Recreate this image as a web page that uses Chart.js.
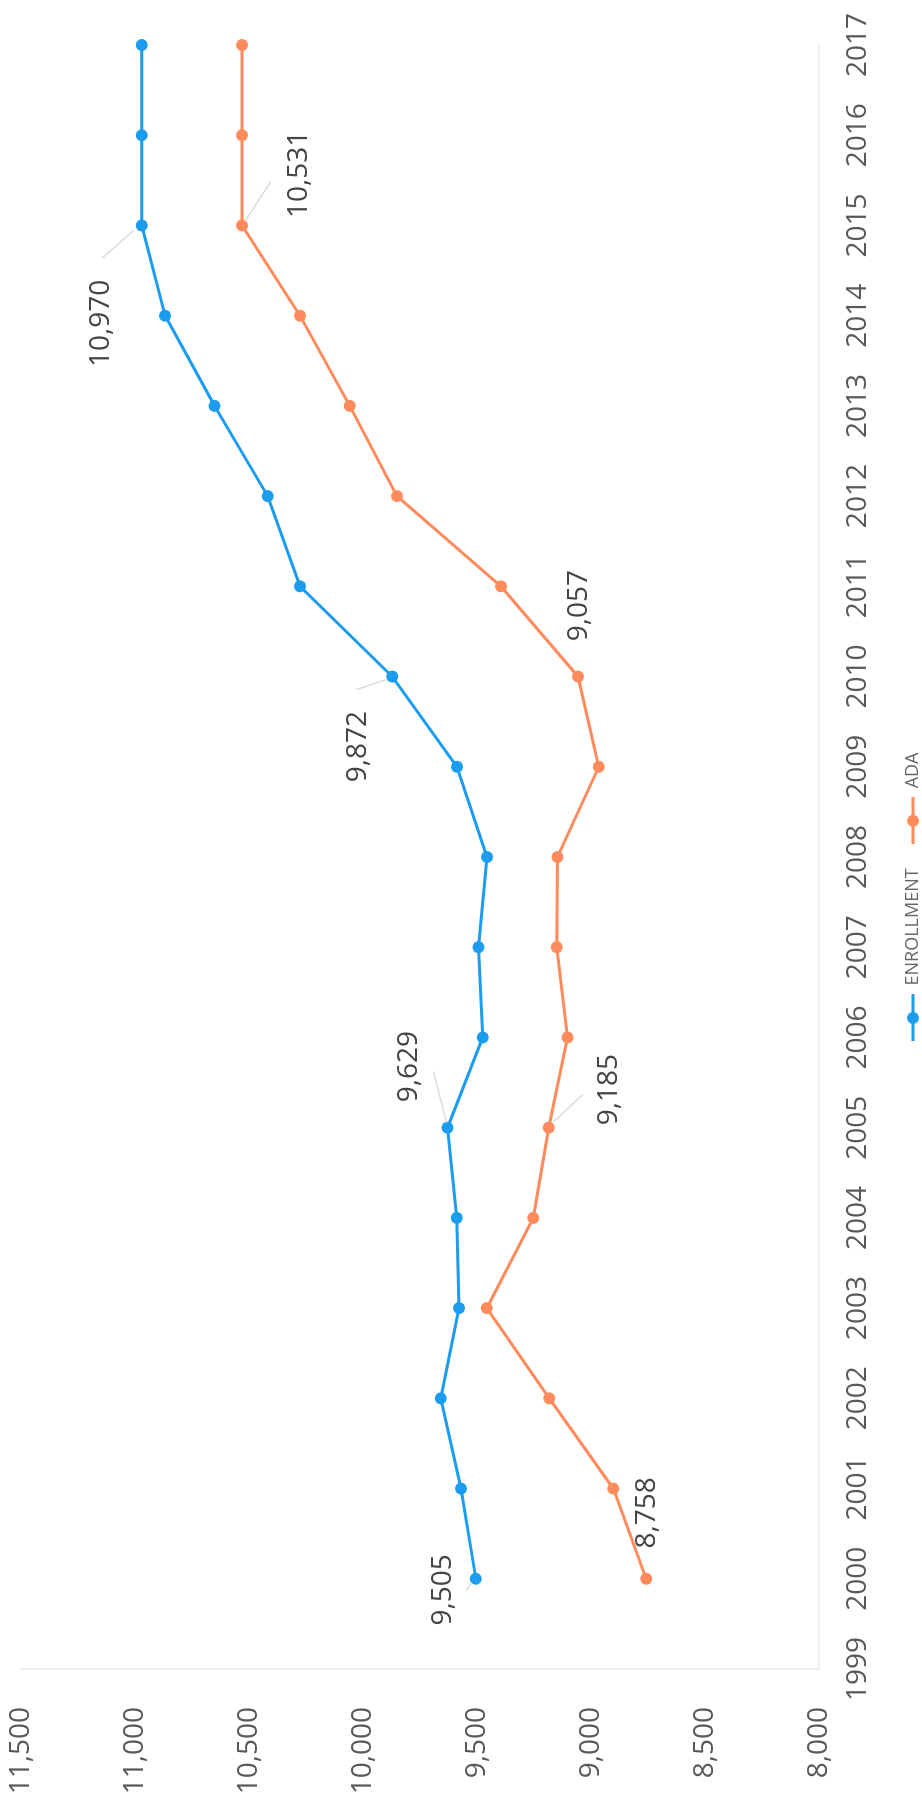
<!DOCTYPE html>
<html>
<head>
<meta charset="utf-8">
<title>Enrollment and ADA, 2000–2017</title>
<script src="https://cdn.jsdelivr.net/npm/chart.js@4.4.1/dist/chart.umd.min.js"></script>
<style>
  html, body { margin: 0; padding: 0; background: #ffffff; width: 922px; height: 1809px; overflow: hidden; }
  /* The chart is laid out landscape and turned a quarter-turn counter-clockwise onto the page. */
  #turn {
    position: absolute; left: 0; top: 0;
    width: 1809px; height: 932px;
    transform-origin: 0 0;
    transform: translate(0, 1809px) rotate(-90deg);
  }
</style>
</head>
<body>
<div id="turn"><canvas id="chart" width="1809" height="932"></canvas></div>
<script>
// School years on the category axis
const years = ['1999', '2000', '2001', '2002', '2003', '2004', '2005', '2006', '2007', '2008',
               '2009', '2010', '2011', '2012', '2013', '2014', '2015', '2016', '2017'];

// Enrollment by year (no value for 1999)
const enrollment = [null, 9505, 9570, 9659, 9579, 9589, 9629, 9475, 9493, 9456,
                    9588, 9872, 10276, 10418, 10651, 10868, 10970, 10970, 10970];

// Average daily attendance by year (no value for 1999)
const ada = [null, 8758, 8902, 9183, 9457, 9253, 9185, 9103, 9150, 9147,
             8966, 9057, 9395, 9851, 10058, 10276, 10531, 10531, 10531];

// Value-axis range and tick step
const valueMin = 8000;
const valueMax = 11500;
const valueStep = 500;

const seriesNames = ['ENROLLMENT', 'ADA'];
const seriesColors = ['#1B9CEE', '#FF8B5C'];

const FONT = '"Open Sans", "Noto Sans", sans-serif';
const fmt = v => Number(v).toLocaleString('en-US');

// Which points carry a value label, and where the label and its leader sit
// relative to the point (canvas pixels).
const pointLabels = [
  { ds: 0, year: '2000', dx: -11, dy: -33, lead: [-4, -4, -12, -10] },
  { ds: 1, year: '2000', dx: 66,  dy: 1,   lead: null },
  { ds: 0, year: '2005', dx: 61,  dy: -39, lead: [5, -1, 56, -14] },
  { ds: 1, year: '2005', dx: 38,  dy: 60,  lead: [6, 5, 33, 34] },
  { ds: 0, year: '2010', dx: -70, dy: -34, lead: [-3, -6, -13, -36] },
  { ds: 1, year: '2010', dx: 71,  dy: 1,   lead: null },
  { ds: 0, year: '2015', dx: -98, dy: -41, lead: [-5, -8, -33, -40] },
  { ds: 1, year: '2015', dx: 51,  dy: 57,  lead: [4, 3, 44, 29] }
];

// Legend swatch: a short line with a dot on it
function swatch(color) {
  const c = document.createElement('canvas');
  c.width = 47; c.height = 16;
  const g = c.getContext('2d');
  g.strokeStyle = color; g.lineWidth = 3;
  g.beginPath(); g.moveTo(0, 8); g.lineTo(47, 8); g.stroke();
  g.fillStyle = color;
  g.beginPath(); g.arc(23.5, 8, 6, 0, Math.PI * 2); g.fill();
  return c;
}
const swatches = seriesColors.map(swatch);

// Value labels with short leader lines
const valueLabelPlugin = {
  id: 'valueLabels',
  afterDatasetsDraw(chart) {
    const ctx = chart.ctx;
    ctx.save();
    pointLabels.forEach(l => {
      const idx = years.indexOf(l.year);
      const pt = chart.getDatasetMeta(l.ds).data[idx];
      if (!pt) return;
      const value = chart.data.datasets[l.ds].data[idx];
      if (l.lead) {
        ctx.strokeStyle = '#dcdcdc';
        ctx.lineWidth = 1.5;
        ctx.beginPath();
        ctx.moveTo(pt.x + l.lead[0], pt.y + l.lead[1]);
        ctx.lineTo(pt.x + l.lead[2], pt.y + l.lead[3]);
        ctx.stroke();
      }
      ctx.font = '28px ' + FONT;
      ctx.fillStyle = '#444444';
      ctx.textAlign = 'center';
      ctx.textBaseline = 'middle';
      ctx.fillText(fmt(value), pt.x + l.dx, pt.y + l.dy);
    });
    ctx.restore();
  }
};

// Nudge the legend row along the axis
const legendShift = {
  id: 'legendShift',
  afterLayout(chart) {
    const lg = chart.legend;
    if (lg) { lg.left += 30; lg.right += 30; }
  }
};

new Chart(document.getElementById('chart'), {
  type: 'line',
  data: {
    labels: years,
    datasets: [
      {
        label: seriesNames[0],
        data: enrollment,
        borderColor: seriesColors[0],
        backgroundColor: seriesColors[0],
        borderWidth: 3,
        pointRadius: 6,
        pointHoverRadius: 6,
        pointBackgroundColor: seriesColors[0],
        pointBorderWidth: 0,
        tension: 0
      },
      {
        label: seriesNames[1],
        data: ada,
        borderColor: seriesColors[1],
        backgroundColor: seriesColors[1],
        borderWidth: 3,
        pointRadius: 6,
        pointHoverRadius: 6,
        pointBackgroundColor: seriesColors[1],
        pointBorderWidth: 0,
        tension: 0
      }
    ]
  },
  options: {
    responsive: false,
    animation: false,
    devicePixelRatio: 1,
    layout: { padding: { top: 21, right: 45, bottom: 0, left: 0 } },
    plugins: {
      tooltip: { enabled: false },
      legend: {
        position: 'bottom',
        align: 'center',
        labels: {
          usePointStyle: true,
          pointStyleWidth: 47,
          boxHeight: 16,
          padding: 24,
          color: '#666666',
          font: { family: FONT, size: 18 },
          generateLabels(chart) {
            const items = Chart.defaults.plugins.legend.labels.generateLabels(chart);
            items.forEach((it, i) => { it.pointStyle = swatches[i]; });
            return items;
          }
        }
      }
    },
    scales: {
      x: {
        type: 'category',
        offset: false,
        grid: { display: false, drawTicks: false },
        border: { display: true, color: '#f0f0f0', width: 2 },
        ticks: {
          autoSkip: false,
          maxRotation: 0,
          minRotation: 0,
          padding: 22,
          color: '#595959',
          font: { family: FONT, size: 28 }
        },
        afterFit(scale) {
          scale.height = 61;
          scale.paddingLeft = 0;
          scale.paddingRight = 0;
        }
      },
      y: {
        min: valueMin,
        max: valueMax,
        grid: { display: false, drawTicks: false },
        border: { display: true, color: '#f0f0f0', width: 2 },
        ticks: {
          stepSize: valueStep,
          padding: 38,
          color: '#595959',
          font: { family: FONT, size: 28 },
          callback: v => fmt(v)
        },
        afterFit(scale) {
          scale.width = 140;
          scale.paddingTop = 0;
          scale.paddingBottom = 0;
        }
      }
    }
  },
  plugins: [valueLabelPlugin, legendShift]
});
</script>
</body>
</html>
